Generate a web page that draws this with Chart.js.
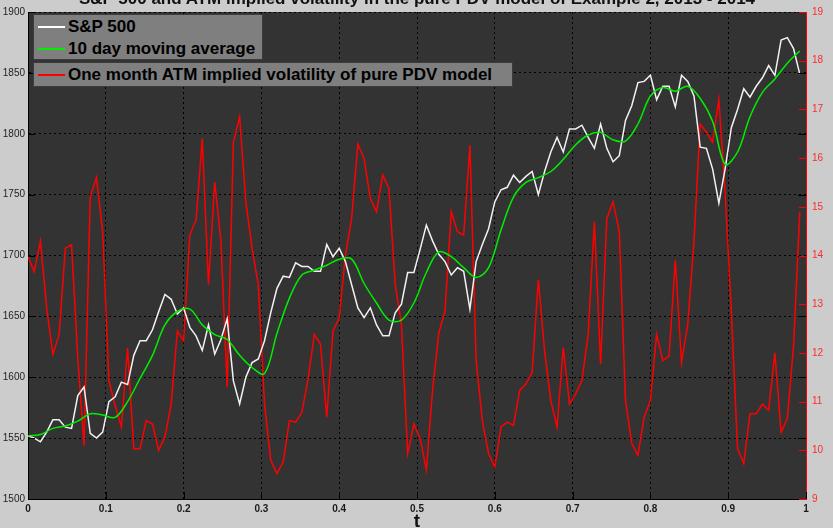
<!DOCTYPE html>
<html>
<head>
<meta charset="utf-8">
<script src="https://cdn.jsdelivr.net/npm/chart.js@4.4.1/dist/chart.umd.min.js"></script>
<style>
  html, body { margin: 0; padding: 0; background: #cccccc; }
  #wrap { position: relative; width: 833px; height: 528px; overflow: hidden; font-family: Arial, "Liberation Sans", sans-serif; }
  #chart { position: absolute; left: 0; top: 0; }
  .title { position: absolute; left: 0; top: -10px; width: 834px; text-align: center; font: bold 17px/17px Arial, "Liberation Sans", sans-serif; color: #111; white-space: nowrap; }
  .legend { position: absolute; background: #7f7f7f; border: 1px solid #3c3c3c; box-sizing: border-box; }
  .row { position: absolute; left: 4px; height: 20px; display: flex; align-items: center; font: bold 17px Arial, "Liberation Sans", sans-serif; color: #000; white-space: nowrap; }
  .row i { display: inline-block; width: 27px; height: 2px; margin-right: 3px; }
  .xlabel { position: absolute; top: 511px; left: 407px; width: 20px; text-align: center; font: bold 19px/19px Arial, "Liberation Sans", sans-serif; color: #111; }
</style>
</head>
<body>
<div id="wrap">
  <canvas id="chart" width="833" height="528"></canvas>
  <div class="title">S&amp;P 500 and ATM implied volatility in the pure PDV model of Example 2, 2013 - 2014</div>
  <div class="legend" style="left:33px; top:14px; width:230px; height:46px;">
    <div class="row" style="top:2px;"><i style="background:#ffffff"></i>S&amp;P 500</div>
    <div class="row" style="top:24px;"><i style="background:#00ee00"></i>10 day moving average</div>
  </div>
  <div class="legend" style="left:33px; top:62px; width:480px; height:25px;">
    <div class="row" style="top:2px;"><i style="background:#ff0000"></i>One month ATM implied volatility of pure PDV model</div>
  </div>
  <div class="xlabel">t</div>
</div>
<script>
// pas de temps (fraction d'année)
const tStep = 0.008;
const maStep = 0.016;

// S&P 500
const spx = [
  1552, 1550, 1547, 1555, 1565, 1565, 1559, 1558, 1585, 1592,
  1554, 1550, 1555, 1580, 1584, 1596, 1594, 1618, 1630, 1630,
  1639, 1654, 1668, 1664, 1652, 1657, 1641, 1634, 1622, 1643,
  1619, 1631, 1648, 1597, 1578, 1600, 1612, 1615, 1630, 1653,
  1673, 1683, 1682, 1694, 1691, 1691, 1687, 1687, 1709, 1699,
  1706, 1695, 1676, 1657, 1649, 1657, 1643, 1634, 1634, 1653,
  1660, 1686, 1686, 1705, 1725, 1712, 1701, 1695, 1684, 1690,
  1687, 1656, 1695, 1709, 1722, 1744, 1754, 1756, 1766, 1760,
  1765, 1769, 1750, 1769, 1785, 1797, 1785, 1804, 1804, 1807,
  1797, 1788, 1808, 1788, 1777, 1782, 1811, 1823, 1842, 1843,
  1848, 1828, 1839, 1839, 1822, 1848, 1843, 1831, 1789, 1788,
  1771, 1743, 1771, 1805, 1820, 1837, 1830, 1839, 1846, 1856,
  1848, 1877, 1879, 1870, 1849
];

// moyenne mobile 10 jours
const ma10 = [
  1552, 1553, 1558, 1560, 1564, 1570, 1569, 1567, 1580, 1599,
  1618, 1643, 1654, 1656, 1643, 1635, 1631, 1618, 1608, 1603,
  1636, 1665, 1684, 1688, 1692, 1697, 1697, 1677, 1661, 1647,
  1647, 1661, 1686, 1703, 1699, 1690, 1682, 1690, 1721, 1748,
  1760, 1764, 1769, 1779, 1791, 1799, 1801, 1795, 1794, 1808,
  1831, 1838, 1835, 1839, 1829, 1810, 1775, 1785, 1814, 1834,
  1845, 1858, 1868
];

// vol implicite ATM 1 mois (axe de droite)
const atmVol = [
  13.98, 13.67, 14.3, 12.92, 11.97, 12.38, 14.15, 14.22, 11.9, 10.1,
  15.2, 15.6, 14.49, 11.43, 10.92, 10.48, 12.1, 10.03, 10.03, 10.61,
  10.54, 10.0, 10.27, 10.95, 12.45, 12.25, 14.42, 14.73, 16.4, 13.4,
  15.51, 14.29, 11.3, 16.33, 16.85, 15.1, 14.15, 13.4, 10.95, 9.8,
  9.52, 9.76, 10.61, 10.58, 10.78, 11.46, 12.38, 12.18, 10.68, 12.45,
  12.72, 14.01, 14.76, 16.29, 15.99, 15.17, 14.9, 15.65, 15.37, 13.4,
  12.58, 9.93, 10.54, 10.24, 9.6, 11.23, 12.41, 12.86, 14.9, 14.49,
  14.42, 16.26, 11.84, 10.61, 9.93, 9.66, 10.48, 10.58, 10.51, 11.23,
  11.36, 11.6, 13.5, 12.04, 11.02, 10.48, 12.11, 10.95, 11.16, 11.43,
  12.38, 14.69, 11.77, 14.76, 15.1, 14.49, 11.02, 10.14, 9.9, 10.68,
  11.02, 12.38, 11.84, 11.94, 13.9, 11.8, 12.58, 14.29, 16.7, 16.53,
  16.33, 17.2, 15.31, 12.86, 10.03, 9.73, 10.75, 10.75, 10.95, 10.82,
  12.0, 10.37, 10.65, 12.14, 14.9
];

const leftTicks = [1500, 1550, 1600, 1650, 1700, 1750, 1800, 1850, 1900];
const rightTicks = [9, 10, 11, 12, 13, 14, 15, 16, 17, 18, 19];
const xTicks = [0, 0.1, 0.2, 0.3, 0.4, 0.5, 0.6, 0.7, 0.8, 0.9, 1];

const toPoints = (values, step) => values.map((v, i) => ({ x: i * step, y: v }));

// fond sombre + petites graduations vers l'intérieur
const plotFrame = {
  id: "plotFrame",
  beforeDraw(chart) {
    const { ctx, chartArea: a } = chart;
    ctx.save();
    ctx.fillStyle = "#333333";
    ctx.fillRect(a.left, a.top, a.right - a.left, a.bottom - a.top);
    ctx.restore();
  },
  afterDraw(chart) {
    const { ctx, chartArea: a, scales } = chart;
    ctx.save();
    ctx.lineWidth = 1;
    ctx.strokeStyle = "#000000";
    ctx.beginPath();
    leftTicks.forEach(v => {
      const y = Math.round(scales.y.getPixelForValue(v)) + 0.5;
      ctx.moveTo(a.left, y); ctx.lineTo(a.left + 7, y);
      ctx.moveTo(a.right - 8, y); ctx.lineTo(a.right, y);
    });
    xTicks.forEach(v => {
      const x = Math.round(scales.x.getPixelForValue(v)) + 0.5;
      ctx.moveTo(x, a.bottom); ctx.lineTo(x, a.bottom - 7);
    });
    ctx.stroke();
    ctx.strokeStyle = "#ff0000";
    ctx.beginPath();
    rightTicks.forEach(v => {
      const y = Math.round(scales.y2.getPixelForValue(v)) + 0.5;
      ctx.moveTo(a.right - 7, y); ctx.lineTo(a.right, y);
    });
    ctx.stroke();
    ctx.restore();
  }
};

document.addEventListener("DOMContentLoaded", () => {
  const ctx = document.getElementById("chart").getContext("2d");

  new Chart(ctx, {
    type: "line",
    data: {
      datasets: [
        {
          label: "10 day moving average",
          data: toPoints(ma10, maStep),
          yAxisID: "y",
          borderColor: "#00ee00",
          borderWidth: 1.5,
          pointRadius: 0,
          tension: 0.35
        },
        {
          label: "S&P 500",
          data: toPoints(spx, tStep),
          yAxisID: "y",
          borderColor: "#f2f2f2",
          borderWidth: 1.5,
          pointRadius: 0,
          tension: 0
        },
        {
          label: "One month ATM implied volatility of pure PDV model",
          data: toPoints(atmVol, tStep),
          yAxisID: "y2",
          borderColor: "#ff0000",
          borderWidth: 1.5,
          pointRadius: 0,
          tension: 0
        }
      ]
    },
    options: {
      responsive: false,
      animation: false,
      devicePixelRatio: 1,
      layout: { padding: { top: 9, left: 0, right: 0, bottom: 0 } },
      plugins: {
        legend: { display: false },
        tooltip: { enabled: false }
      },
      scales: {
        x: {
          type: "linear",
          min: 0,
          max: 1,
          afterBuildTicks: s => { s.ticks = xTicks.map(v => ({ value: v })); },
          afterFit: s => { s.height = 29; },
          ticks: {
            color: "#1a1a1a",
            font: { size: 10, weight: "bold", family: "Arial" },
            padding: 4,
            maxRotation: 0,
            callback: v => String(+Number(v).toFixed(1))
          },
          grid: { color: "#000000", lineWidth: 1, drawTicks: false },
          border: { color: "#000000", dash: [2, 3] }
        },
        y: {
          position: "left",
          min: 1500,
          max: 1900,
          afterBuildTicks: s => { s.ticks = leftTicks.map(v => ({ value: v })); },
          afterFit: s => { s.width = 28; },
          ticks: {
            color: "#222222",
            font: { size: 10, family: "Arial" },
            padding: 3,
            callback: v => String(v)
          },
          grid: { color: "#000000", lineWidth: 1, drawTicks: false },
          border: { color: "#000000", dash: [2, 3] }
        },
        y2: {
          position: "right",
          min: 9,
          max: 19,
          afterBuildTicks: s => { s.ticks = rightTicks.map(v => ({ value: v })); },
          afterFit: s => { s.width = 27; },
          ticks: {
            color: "#ff2a2a",
            font: { size: 10, family: "Arial" },
            padding: 6,
            callback: v => String(v)
          },
          grid: { drawOnChartArea: false, drawTicks: false },
          border: { color: "#ff0000" }
        }
      }
    },
    plugins: [plotFrame]
  });
});
</script>
</body>
</html>
